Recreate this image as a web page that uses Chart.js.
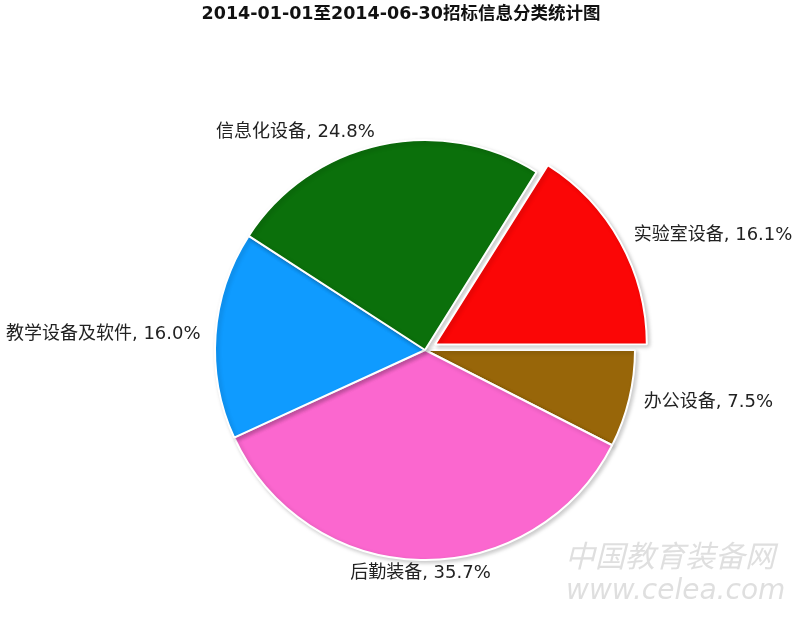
<!DOCTYPE html>
<html lang="zh-CN">
<head>
    <meta charset="UTF-8">
    <title>招标信息分类统计图</title>
    <script src="https://cdn.jsdelivr.net/npm/chart.js"></script>
    <style>
        body, html {
            margin: 0;
            padding: 0;
            background-color: #ffffff;
        }
        .chart-box {
            width: 800px;
            height: 617px;
        }
    </style>
</head>
<body>
    <div class="chart-box">
        <canvas id="pieChart" width="800" height="617"></canvas>
    </div>

    <script>
        // 数据 (顺时针, 从 3 点钟方向开始)
        const chartTitle = '2014-01-01至2014-06-30招标信息分类统计图';
        const categories = ['办公设备', '后勤装备', '教学设备及软件', '信息化设备', '实验室设备'];
        const shares = [7.5, 35.7, 16.0, 24.8, 16.1];

        const sliceColors = ['#986609', '#fb67cf', '#0f9bff', '#0b700b', '#fb0606'];
        const labelFont = '18px "DejaVu Sans", "Noto Sans CJK SC", sans-serif';

        // 扇区阴影
        const shadowPlugin = {
            id: 'sliceShadow',
            beforeDatasetsDraw(chart) {
                const ctx = chart.ctx;
                ctx.save();
                ctx.shadowColor = 'rgba(0,0,0,0.2)';
                ctx.shadowBlur = 4;
                ctx.shadowOffsetX = 2;
                ctx.shadowOffsetY = 2;
            },
            afterDatasetsDraw(chart) {
                chart.ctx.restore();
            }
        };

        // 标题, 外部标签, 水印
        const labelPlugin = {
            id: 'outerLabels',
            afterDraw(chart) {
                const ctx = chart.ctx;
                const meta = chart.getDatasetMeta(0);
                const ds = chart.data.datasets[0];
                ctx.save();

                ctx.font = 'bold 17.5px "DejaVu Sans", "Noto Sans CJK SC", sans-serif';
                ctx.fillStyle = '#111';
                ctx.textAlign = 'center';
                ctx.textBaseline = 'middle';
                ctx.fillText(chartTitle, 401, 14);

                ctx.font = labelFont;
                ctx.fillStyle = '#222';
                meta.data.forEach((arc, i) => {
                    const p = arc.getProps(['x', 'y', 'startAngle', 'endAngle', 'outerRadius'], true);
                    const mid = (p.startAngle + p.endAngle) / 2;
                    // 与 ArcElement 中偏移量的算法一致
                    const off = (ds.offset[i] || 0) / 4;
                    const fix = 1 - Math.sin(Math.min(Math.PI, p.endAngle - p.startAngle));
                    const r = p.outerRadius + off * (1 + fix) + 13;
                    const cos = Math.cos(mid);
                    let x = p.x + cos * r;
                    const y = p.y + Math.sin(mid) * r;
                    if (cos > 0.1) {
                        ctx.textAlign = 'left';
                        x += 2;
                    } else if (cos < -0.1) {
                        ctx.textAlign = 'right';
                        x -= 2;
                    } else {
                        ctx.textAlign = 'center';
                    }
                    const text = chart.data.labels[i] + ', ' + shares[i].toFixed(1) + '%';
                    ctx.fillText(text, x, y);
                });

                // 水印
                ctx.textAlign = 'left';
                ctx.fillStyle = 'rgba(185,185,185,0.45)';
                ctx.font = 'italic 30px "Noto Sans CJK SC", sans-serif';
                ctx.fillText('中国教育装备网', 565, 556);
                ctx.font = 'italic 28px "DejaVu Sans", sans-serif';
                ctx.fillText('www.celea.com', 566, 592);
                ctx.restore();
            }
        };

        new Chart(document.getElementById('pieChart').getContext('2d'), {
            type: 'pie',
            data: {
                labels: categories,
                datasets: [{
                    data: shares,
                    backgroundColor: sliceColors,
                    borderColor: '#ffffff',
                    borderWidth: 2,
                    offset: [0, 0, 0, 0, 46],
                    radius: 210
                }]
            },
            options: {
                responsive: false,
                animation: false,
                rotation: 90,
                layout: {
                    padding: { left: 50, right: 0, top: 83, bottom: 0 }
                },
                plugins: {
                    legend: { display: false },
                    tooltip: { enabled: false },
                    title: { display: false }
                }
            },
            plugins: [shadowPlugin, labelPlugin]
        });
    </script>
</body>
</html>
